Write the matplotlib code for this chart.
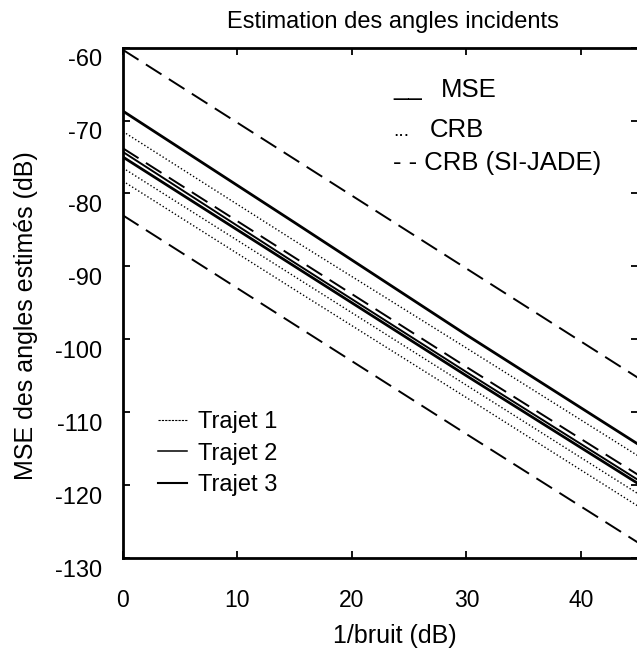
import numpy as np
import matplotlib
matplotlib.use("Agg")
import matplotlib.pyplot as plt
from matplotlib.lines import Line2D
from matplotlib.transforms import ScaledTranslation

plt.rcParams['font.family'] = ['Liberation Sans', 'DejaVu Sans']
plt.rcParams['axes.unicode_minus'] = False

# 1/bruit (dB)
snr = [0, 15, 30, 45]

# MSE (traits pleins)
mse_a = [-68.7, -84.0, -99.4, -114.4]
mse_b = [-74.3, -89.5, -104.5, -119.3]
mse_c = [-75.0, -90.0, -105.0, -119.8]

# CRB (pointilles)
crb_a = [-71.5, -86.5, -101.2, -116.0]
crb_b = [-76.5, -91.4, -106.3, -121.2]
crb_c = [-78.3, -93.2, -108.0, -122.9]

# CRB (SI-JADE) (tirets)
sij_a = [-60.3, -75.3, -90.3, -105.3]
sij_b = [-73.8, -88.8, -103.8, -118.6]
sij_c = [-83.0, -98.0, -113.0, -127.9]

fig = plt.figure(figsize=(6.37, 6.62), dpi=100)
ax = fig.add_axes([0.193, 0.157, 0.809, 0.771])

dash = (0, (9.5, 4.5))
dots = (0, (1, 1.6))
for y in [sij_a, sij_b, sij_c]:
    ax.plot(snr, y, color='black', lw=1.4, linestyle=dash)
for y in [crb_a, crb_b, crb_c]:
    ax.plot(snr, y, color='black', lw=1.0, linestyle=dots)
for y, w in zip([mse_a, mse_b, mse_c], [2.0, 1.4, 2.0]):
    ax.plot(snr, y, color='black', lw=w, linestyle='-')

ax.set_xlim(0, 45)
ax.set_ylim(-130, -60)
ax.set_xticks([0, 10, 20, 30, 40])
ax.set_yticks(np.arange(-130, -59, 10))
ax.tick_params(direction='in', length=5, width=1.3, top=True, right=True)
ax.tick_params(axis='x', pad=22, labelsize=16.5)
ax.tick_params(axis='y', pad=15, labelsize=17)
for s in ax.spines.values():
    s.set_linewidth(2.0)

# les chiffres de l'axe y sont un peu plus bas que les graduations
shift = ScaledTranslation(0, -0.10, fig.dpi_scale_trans)
for lab in ax.get_yticklabels():
    lab.set_transform(lab.get_transform() + shift)

t = ax.set_title('Estimation des angles incidents', fontsize=17, pad=14)
t.set_x(0.523)
ax.set_xlabel('1/bruit (dB)', fontsize=18)
ax.xaxis.set_label_coords(0.528, -0.13)
ax.set_ylabel('MSE des angles estimés (dB)', fontsize=18)
ax.yaxis.set_label_coords(-0.165, 0.475)

# legende type de courbe
ax.text(0.524, 0.908, '__', transform=ax.transAxes, fontsize=18.5, va='baseline')
ax.text(0.616, 0.904, 'MSE', transform=ax.transAxes, fontsize=18.5, va='baseline')
ax.text(0.524, 0.827, '...', transform=ax.transAxes, fontsize=14, va='baseline')
ax.text(0.596, 0.825, 'CRB', transform=ax.transAxes, fontsize=18.5, va='baseline')
ax.text(0.524, 0.761, '- - CRB (SI-JADE)', transform=ax.transAxes,
        fontsize=18.5, va='baseline')

# legende trajets
handles = [
    Line2D([], [], color='black', lw=0.8, linestyle=(0, (2, 1))),
    Line2D([], [], color='black', lw=1.1),
    Line2D([], [], color='black', lw=1.5),
]
ax.legend(handles, ['Trajet 1', 'Trajet 2', 'Trajet 3'], loc='upper left',
          bbox_to_anchor=(0.068, 0.288), frameon=False, fontsize=17,
          handlelength=1.25, handletextpad=0.45, labelspacing=0.4,
          borderpad=0, borderaxespad=0)

fig.savefig('out.png', dpi=100)
